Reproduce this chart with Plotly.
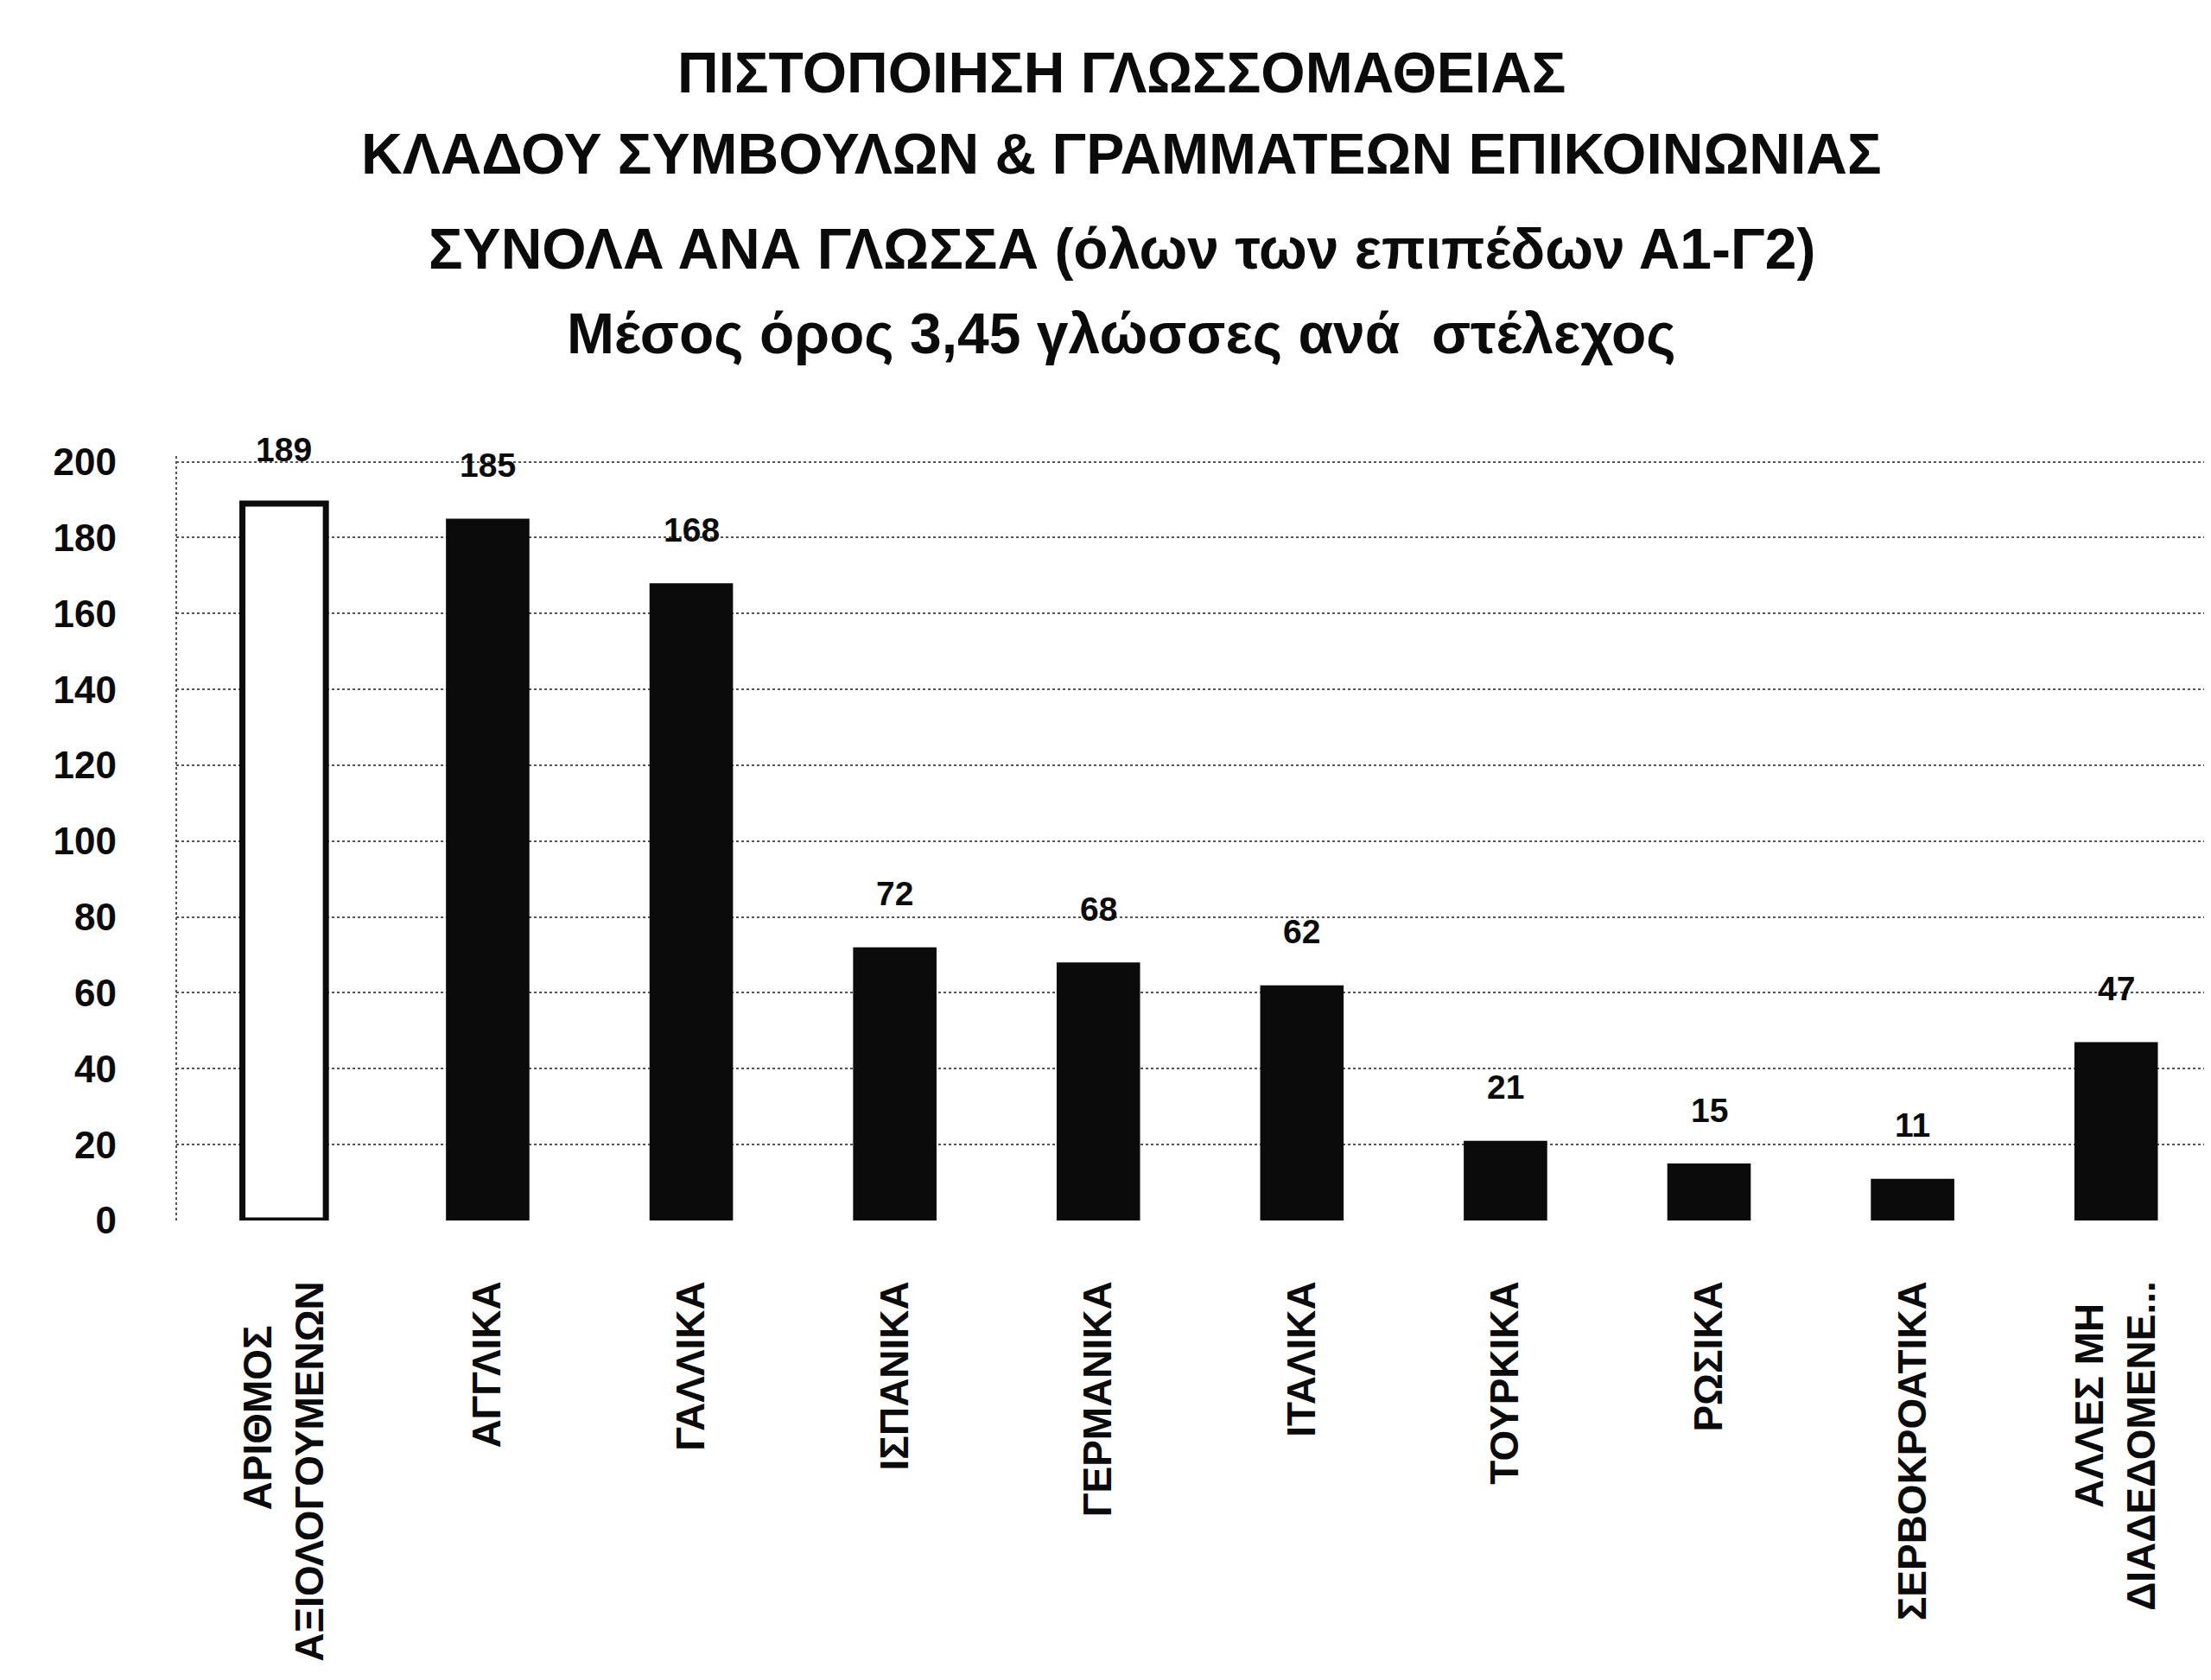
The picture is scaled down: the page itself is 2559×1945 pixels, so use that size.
import plotly.graph_objects as go

# ---- data ----
categories = [
    "ΑΡΙΘΜΟΣ" + "\u00a0" * 4 + "<br>ΑΞΙΟΛΟΓΟΥΜΕΝΩΝ",
    "ΑΓΓΛΙΚΑ",
    "ΓΑΛΛΙΚΑ",
    "ΙΣΠΑΝΙΚΑ",
    "ΓΕΡΜΑΝΙΚΑ",
    "ΙΤΑΛΙΚΑ",
    "ΤΟΥΡΚΙΚΑ",
    "ΡΩΣΙΚΑ",
    "ΣΕΡΒΟΚΡΟΑΤΙΚΑ",
    "ΑΛΛΕΣ ΜΗ" + "\u00a0" * 2 + "<br>ΔΙΑΔΕΔΟΜΕΝΕ...",
]
values = [189, 185, 168, 72, 68, 62, 21, 15, 11, 47]
y_ticks = list(range(0, 201, 20))

title_lines = [
    "ΠΙΣΤΟΠΟΙΗΣΗ ΓΛΩΣΣΟΜΑΘΕΙΑΣ",
    "ΚΛΑΔΟΥ ΣΥΜΒΟΥΛΩΝ & ΓΡΑΜΜΑΤΕΩΝ ΕΠΙΚΟΙΝΩΝΙΑΣ",
    "ΣΥΝΟΛΑ ΑΝΑ ΓΛΩΣΣΑ (όλων των επιπέδων Α1-Γ2)",
    "Μέσος όρος 3,45 γλώσσες ανά \u00a0στέλεχος",
]

FONT = "Liberation Sans, Arial, sans-serif"
W, H = 2559, 1945
ML = 196
Y_TOP_PX, Y_BOT_PX = 527, 1405     # pixel rows of 200 and 0
Y_MAX = 201.5
plot_h = (Y_BOT_PX - Y_TOP_PX) * Y_MAX / 200
MB = H - Y_BOT_PX
MT = int(round(Y_BOT_PX - plot_h))

n = len(values)
fill_colors = ["white"] + ["#0b0b0b"] * (n - 1)
line_widths = [7] + [0] * (n - 1)

fig = go.Figure()
fig.add_trace(go.Bar(
    x=list(range(n)),
    y=values,
    width=0.41,
    marker=dict(color=fill_colors, line=dict(color="#0b0b0b", width=line_widths)),
    hoverinfo="skip",
))

# value labels above bars
for i, v in enumerate(values):
    fig.add_annotation(
        x=i, y=v, xref="x", yref="y",
        text=f"<b>{v}</b>", showarrow=False,
        yanchor="middle", yshift=62,
        font=dict(family=FONT, size=39, color="#0b0b0b"),
    )

# title lines
title_y_px = [76, 170, 280, 378]
title_x = (1290 - ML) / (W - ML)
for txt, ypx in zip(title_lines, title_y_px):
    fig.add_annotation(
        x=title_x, y=1, xref="paper", yref="paper",
        text=f"<b>{txt}</b>", showarrow=False,
        xanchor="center", yanchor="middle", yshift=MT - ypx,
        font=dict(family=FONT, size=66, color="#0b0b0b"),
    )

# dotted left axis line
fig.add_shape(type="line", xref="paper", yref="paper", x0=0, x1=0, y0=0, y1=1,
              line=dict(color="#555555", width=2, dash="dot"))

fig.update_layout(
    width=W, height=H,
    margin=dict(l=ML, r=0, t=MT, b=MB, pad=0),
    paper_bgcolor="white", plot_bgcolor="white",
    showlegend=False,
    font=dict(family=FONT, color="#0b0b0b"),
    xaxis=dict(
        tickmode="array",
        tickvals=list(range(n)),
        ticktext=[f"<b>{c}</b>" for c in categories],
        tickangle=-90,
        tickfont=dict(family=FONT, size=46, color="#0b0b0b"),
        range=[-0.53, 9.50],
        showgrid=False, showline=False, zeroline=False,
        ticks="", ticklabelstandoff=60,
    ),
    yaxis=dict(
        range=[0, Y_MAX],
        tickmode="array",
        tickvals=y_ticks,
        ticktext=[f"<b>{t}</b>" for t in y_ticks],
        tickfont=dict(family=FONT, size=44, color="#0b0b0b"),
        showgrid=True, gridcolor="#555555", gridwidth=2, griddash="dot",
        zeroline=False, showline=False,
        ticks="", ticklabelstandoff=68,
    ),
)

fig.write_html("out.html")
